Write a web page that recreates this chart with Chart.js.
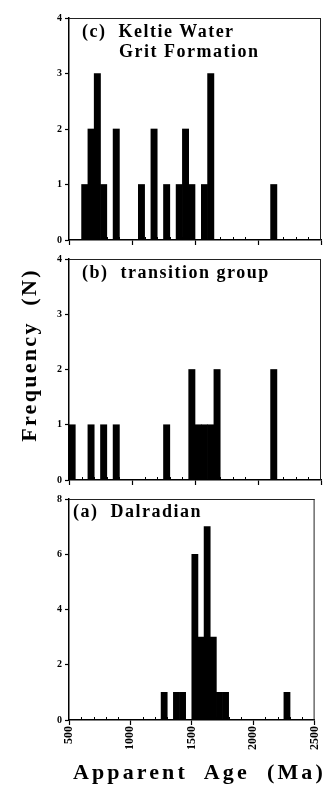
<!DOCTYPE html>
<html>
<head>
<meta charset="utf-8">
<script src="https://cdn.jsdelivr.net/npm/chart.js@4.4.1/dist/chart.umd.min.js"></script>
<style>
  html, body { margin:0; padding:0; background:#fff; }
  #wrap { position:relative; width:330px; height:787px; overflow:hidden; background:#fff; }
  canvas { position:absolute; left:0; }
  .lbl { position:absolute; font-family:"Liberation Serif","DejaVu Serif",serif; font-weight:bold; color:#000; white-space:pre; }
  .panel { font-size:18px; line-height:18px; letter-spacing:1.5px; }
</style>
</head>
<body>
<div id="wrap">
  <canvas id="chartC" width="330" height="250" style="top:0px"></canvas>
  <canvas id="chartB" width="330" height="240" style="top:250px"></canvas>
  <canvas id="chartA" width="330" height="297" style="top:490px"></canvas>
  <div class="lbl panel" style="left:82px; top:22px;">(c)  Keltie Water</div>
  <div class="lbl panel" style="left:119px; top:42px;">Grit Formation</div>
  <div class="lbl panel" style="left:82px; top:263px;">(b)  transition group</div>
  <div class="lbl panel" style="left:73px; top:502px;">(a)  Dalradian</div>
  <div class="lbl" style="left:-71px; top:344px; width:200px; height:22px; font-size:22px; line-height:22px; letter-spacing:2.3px; text-align:center; transform:rotate(-90deg); transform-origin:100px 11px;">Frequency  (N)</div>
  <div class="lbl" style="left:73px; top:761px; font-size:22px; line-height:22px; letter-spacing:3.1px;">Apparent  Age  (Ma)</div>
</div>
<script>
// ---- data ----
const ageMin = 500;
const ageMax = 2500;
const binWidth = 50;
const xTickLabels = [500, 1000, 1500, 2000, 2500];

// (c) Keltie Water Grit Formation: bin start ages (Ma) and counts
const keltieBins   = [600, 650, 700, 750, 850, 1050, 1150, 1250, 1350, 1400, 1450, 1550, 1600, 2100];
const keltieCounts = [1,   2,   3,   1,   2,   1,    2,    1,    1,    2,    1,    1,    3,    1];

// (b) transition group
const transitionBins   = [500, 650, 750, 850, 1250, 1450, 1500, 1550, 1600, 1650, 2100];
const transitionCounts = [1,   1,   1,   1,   1,    2,    1,    1,    1,    2,    2];

// (a) Dalradian
const dalradianBins   = [1250, 1350, 1400, 1500, 1550, 1600, 1650, 1700, 1750, 2250];
const dalradianCounts = [1,    1,    1,    6,    3,    7,    3,    1,    1,    1];

const yTicksUpper = [0, 1, 2, 3, 4];
const yTicksLower = [0, 2, 4, 6, 8];

// ---- drawing ----
const SERIF = '"Liberation Serif", "DejaVu Serif", serif';

const framePlugin = {
  id: 'frame',
  afterDraw(chart) {
    const { ctx, chartArea: a, scales } = chart;
    const x = scales.x;
    ctx.save();
    ctx.strokeStyle = '#222';
    ctx.lineWidth = 1;
    ctx.beginPath();
    ctx.moveTo(a.left, a.top + 0.5);
    ctx.lineTo(a.right, a.top + 0.5);
    ctx.moveTo(a.right - 0.5, a.top);
    ctx.lineTo(a.right - 0.5, a.bottom);
    ctx.stroke();
    ctx.strokeStyle = '#000';
    ctx.beginPath();
    x.ticks.forEach((t, i) => {
      if (!xTickLabels.includes(t.value)) {
        const px = Math.round(x.getPixelForTick(i)) + 0.5;
        ctx.moveTo(px, a.bottom);
        ctx.lineTo(px, a.bottom - 3);
      }
    });
    ctx.stroke();
    ctx.restore();
  }
};

function makeChart(id, bins, counts, yTicks, opts) {
  const data = bins.map((b, i) => ({ x: b + binWidth / 2, y: counts[i] }));
  const yMax = yTicks[yTicks.length - 1];
  const yStep = yTicks[1] - yTicks[0];
  return new Chart(document.getElementById(id), {
    type: 'bar',
    data: {
      datasets: [{
        data: data,
        backgroundColor: '#000',
        borderWidth: 0,
        barPercentage: 1,
        categoryPercentage: 1
      }]
    },
    options: {
      responsive: false,
      animation: false,
      events: [],
      layout: { padding: { top: opts.top, right: 9, left: 0, bottom: 0 } },
      plugins: { legend: { display: false }, tooltip: { enabled: false }, title: { display: false } },
      scales: {
        x: {
          type: 'linear',
          offset: false,
          min: ageMin,
          max: ageMax,
          afterFit: s => { s.height = opts.xHeight; },
          ticks: {
            display: opts.showX,
            stepSize: 100,
            autoSkip: false,
            minRotation: 90,
            maxRotation: 90,
            padding: 1,
            color: '#000',
            font: { family: SERIF, weight: 'bold', size: 12 },
            callback: v => xTickLabels.includes(v) ? String(v) : ''
          },
          grid: {
            display: true,
            offset: false,
            drawOnChartArea: false,
            drawTicks: true,
            tickLength: 5,
            tickWidth: 1.2,
            tickColor: c => (c.tick && xTickLabels.includes(c.tick.value)) ? '#000' : 'rgba(0,0,0,0)'
          },
          border: { display: true, color: '#000', width: 1.5 }
        },
        y: {
          min: 0,
          max: yMax,
          afterFit: s => { s.width = 69; },
          ticks: {
            stepSize: yStep,
            padding: 3,
            color: '#000',
            font: { family: SERIF, weight: 'bold', size: 10 }
          },
          grid: {
            display: true,
            drawOnChartArea: false,
            drawTicks: true,
            tickLength: 4,
            tickWidth: 1.2,
            tickColor: '#000'
          },
          border: { display: true, color: '#000', width: 1.5 }
        }
      }
    },
    plugins: [framePlugin]
  });
}

makeChart('chartC', keltieBins, keltieCounts, yTicksUpper, { top: 18, xHeight: 10, showX: false });
makeChart('chartB', transitionBins, transitionCounts, yTicksUpper, { top: 9, xHeight: 10, showX: false });
makeChart('chartA', dalradianBins, dalradianCounts, yTicksLower, { top: 8, xHeight: 67, showX: true });
</script>
</body>
</html>
